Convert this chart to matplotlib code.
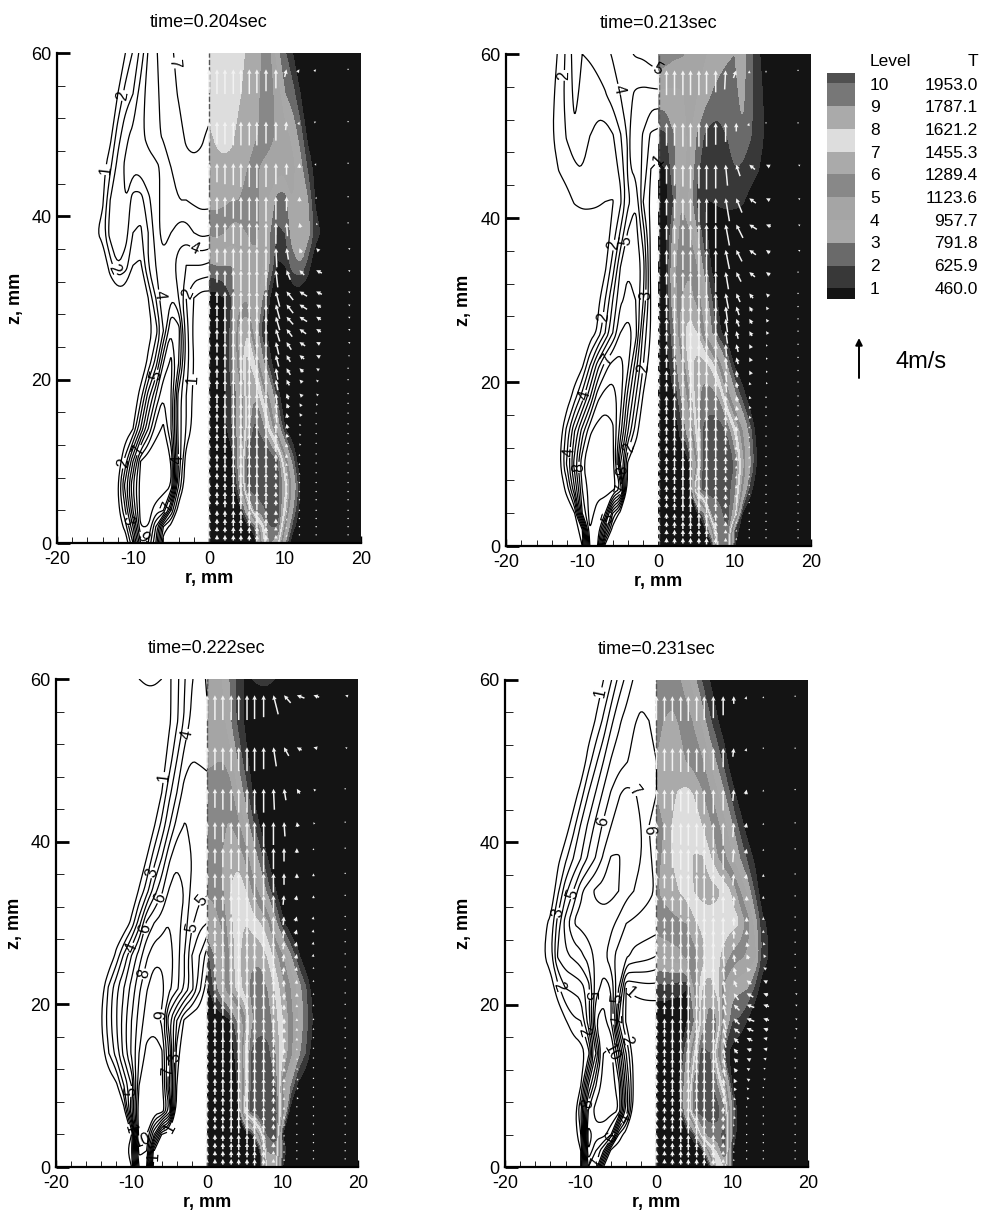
import numpy as np
import matplotlib
matplotlib.use("Agg")
import matplotlib.pyplot as plt
from matplotlib.colors import ListedColormap, BoundaryNorm
from matplotlib.path import Path
from matplotlib.patches import FancyArrowPatch

plt.rcParams['font.family'] = ['Liberation Sans', 'DejaVu Sans']
plt.rcParams['axes.unicode_minus'] = False

# grid of the temperature tables
r_grid = [0, 1, 2, 3, 4, 5, 6, 7, 8, 9, 10, 11, 12, 13, 14, 16, 20]
z_grid = [0, 2, 4, 7, 10, 14, 18, 22, 26, 30, 34, 38, 42, 46, 50, 55, 60]

# temperature in contour level units (rows = z_grid)
T_204 = [
    [0, 0, 0, 0, 0, 0, 0, 6, 9, 8, 3, 0, 0, 0, 0, 0, 0],
    [0, 0, 0, 0, 0, 0.5, 2, 7, 10, 10, 5, 1.5, 0, 0, 0, 0, 0],
    [0, 0, 0, 0, 0.2, 4, 9, 9.5, 10.5, 10.5, 7, 3, 0.5, 0, 0, 0, 0],
    [0, 0, 0, 0, 3, 10, 10.5, 11, 11, 10.5, 8, 4.5, 1, 0, 0, 0, 0],
    [0, 0, 0, 0.3, 4, 10, 11, 11, 11, 10, 6, 2.5, 0, 0, 0, 0, 0],
    [0, 0, 0.5, 2, 3.5, 8, 10.2, 9.5, 7, 4, 1, 0, 0, 0, 0, 0, 0],
    [0, 0, 0.7, 2, 3.5, 8, 9, 7, 4.5, 1.5, 0, 0, 0, 0, 0, 0, 0],
    [0, 0, 1, 2.5, 6, 8.3, 7, 3.5, 1.3, 0, 0, 0, 0, 0, 0, 0, 0],
    [0, 0, 0.7, 2.5, 6.5, 7, 4, 1.5, 0.5, 0, 0, 0, 0, 0, 0, 0, 0],
    [0.5, 0.5, 1, 2, 4, 5, 5, 3, 1, 0.2, 0, 0, 0, 0, 0, 0, 0],
    [2.8, 3, 3, 3, 3.5, 4.5, 4.5, 4, 3, 0.8, 1, 2.5, 3, 1.5, 0, 0, 0],
    [5.2, 5.3, 5, 4.5, 4.5, 5, 5.5, 4.5, 3, 1.8, 2, 3.5, 4, 3.5, 1.5, 0, 0],
    [6.3, 6.3, 6.2, 6, 6, 6, 5.5, 4.5, 3.8, 2.5, 2.5, 4, 4, 3, 0.8, 0, 0],
    [6.5, 6.7, 6.8, 6.7, 6.3, 6, 5.2, 4.8, 4.6, 4.5, 4.4, 4.2, 3.4, 1.8, 0.5, 0, 0],
    [6.8, 7.2, 7.3, 7.2, 6.6, 6.3, 6.2, 5.7, 5.3, 4.8, 4.3, 3.7, 2.5, 0.6, 0, 0, 0],
    [7.6, 7.6, 7.5, 7.3, 7.1, 6.6, 6.3, 5.8, 5.4, 4.5, 3, 2.4, 1, 0.2, 0, 0, 0],
    [7.8, 7.8, 7.7, 7.5, 7.2, 6.9, 6.4, 5.9, 5.1, 3.3, 2.1, 1, 0.3, 0, 0, 0, 0],
]
T_213 = [
    [0, 0, 0, 0, 0, 0, 0, 0.5, 9, 9, 1, 0, 0, 0, 0, 0, 0],
    [0, 0, 0, 0, 0, 0, 0.3, 5, 10, 10, 2, 0, 0, 0, 0, 0, 0],
    [0, 0, 0, 0, 0, 0.5, 3, 9, 9.5, 10.5, 8, 1, 0, 0, 0, 0, 0],
    [0, 0, 0, 0, 0.2, 9, 10.5, 10.5, 10.5, 10.5, 9, 5, 1.5, 0, 0, 0, 0],
    [0, 0, 0, 0, 0.7, 5, 10.5, 11, 11, 11, 9.8, 6.5, 3.2, 0.8, 0, 0, 0],
    [0, 0, 0, 1.5, 4, 7.5, 10.2, 10.5, 10.5, 9.8, 7.5, 5, 2.4, 0.3, 0, 0, 0],
    [0, 0, 0.8, 3, 5.5, 8.5, 9.5, 9.6, 8.8, 6, 3.6, 1.7, 0.3, 0, 0, 0, 0],
    [0, 0.3, 2, 4.5, 7.2, 8.5, 8.5, 7.5, 5.5, 3, 0.8, 0, 0, 0, 0, 0, 0],
    [0, 0.9, 2.7, 6.5, 7.5, 7, 5, 3, 1.2, 0.3, 0, 0, 0, 0, 0, 0, 0],
    [0, 0.9, 4, 6, 6.3, 5.8, 4, 2, 0.6, 0, 0, 0, 0, 0, 0, 0, 0],
    [0.1, 0.7, 4.5, 5.9, 5.9, 5, 2.5, 0.8, 0, 0, 0, 0, 0, 0, 0, 0, 0],
    [0.1, 0.7, 3.5, 5.5, 5.2, 3.2, 1.4, 0.4, 0, 0, 0, 0, 0, 0, 0, 0, 0],
    [0.3, 0.7, 2, 4.9, 3.7, 1.8, 0.95, 1, 1.2, 1.3, 1.3, 1.1, 0.6, 0.2, 0, 0, 0],
    [0.8, 1, 2.8, 3.6, 4.2, 2.2, 1.6, 1.2, 1.3, 1.6, 2, 1.8, 1.5, 1.1, 0.5, 0, 0],
    [1.6, 1.8, 2.9, 3.6, 4.1, 2.9, 1.9, 1.5, 1.6, 2, 2.5, 2.8, 2.1, 1.5, 0.9, 0, 0],
    [3.7, 3.7, 3.7, 3.8, 4.3, 4, 3.5, 2.9, 2.6, 2.6, 2.7, 3.3, 2.3, 1.6, 0.7, 0, 0],
    [5.8, 5.5, 5.2, 5.1, 4.8, 4.5, 4.1, 3.7, 3.4, 3.1, 3, 3.5, 2.3, 1.2, 0.5, 0, 0],
]
T_222 = [
    [0, 0, 0, 0, 0, 0, 0, 0, 8, 8, 1, 0, 0, 0, 0, 0, 0],
    [0, 0, 0, 0, 0, 0, 0, 1, 9, 9.5, 2, 0, 0, 0, 0, 0, 0],
    [0, 0, 0, 0, 0, 0, 1, 6, 10, 10.8, 1, 0, 0, 0, 0, 0, 0],
    [0, 0, 0, 0, 0.2, 8, 11, 11, 11, 10.8, 6, 0.6, 0, 0, 0, 0, 0],
    [0, 0, 0, 0, 1, 6, 10.5, 11, 10.8, 10, 5, 3, 0.7, 0, 0, 0, 0],
    [0, 0, 0, 0, 1.5, 7, 10.2, 10.4, 10.3, 9, 7.2, 5.4, 3.5, 2, 0.4, 0, 0],
    [0, 0, 0, 0.8, 3, 5.2, 8.8, 9.7, 9.5, 8.4, 7, 5.6, 4, 2.6, 1, 0, 0],
    [0.5, 2.3, 4.4, 6, 7.3, 8.3, 9.3, 9.6, 8.9, 7.8, 6.4, 5, 3.8, 2.2, 0.5, 0, 0],
    [1.5, 3, 4, 6, 7.5, 8.5, 8.8, 8.7, 7.8, 6.5, 5, 3.2, 1.3, 0, 0, 0, 0],
    [4, 4.3, 5.2, 6.5, 7.5, 8, 7.5, 7, 6.2, 3.5, 1.3, 0, 0, 0, 0, 0, 0],
    [5.2, 5.4, 5.7, 7, 7.5, 7.1, 5.8, 4.5, 2.5, 1.1, 0, 0, 0, 0, 0, 0, 0],
    [5.6, 5.8, 6, 6.5, 6.8, 5.8, 4, 2.5, 1, 0, 0, 0, 0, 0, 0, 0, 0],
    [6, 5.8, 5.9, 6.05, 5.4, 3.9, 2.3, 0.9, 0, 0, 0, 0, 0, 0, 0, 0, 0],
    [5.2, 5.6, 5.7, 5.5, 4, 2.7, 1, 0.2, 0, 0, 0, 0, 0, 0, 0, 0, 0],
    [4.9, 4.9, 5, 4.4, 3, 1.5, 0.4, 0, 0, 0, 0, 0, 0, 0, 0, 0, 0],
    [4.9, 4.8, 4.3, 3.1, 1.8, 0.8, 0, 0, 0, 0, 0, 0, 0, 0, 0, 0, 0],
    [5.1, 4.6, 3.9, 2.9, 1.7, 0.8, 1, 1.2, 1.2, 1, 0.5, 0, 0, 0, 0, 0, 0],
]
T_231 = [
    [0, 0, 0, 0, 0, 0, 0, 1, 7, 8, 1, 0, 0, 0, 0, 0, 0],
    [0, 0, 0, 0, 0, 0, 0.5, 6, 8, 10, 1, 0, 0, 0, 0, 0, 0],
    [0, 0, 0, 0, 0.2, 2, 8, 9.5, 9.5, 10.5, 2, 0, 0, 0, 0, 0, 0],
    [0, 0, 0, 0.3, 5, 10, 10.5, 10.5, 10.5, 9, 3, 0, 0, 0, 0, 0, 0],
    [0, 0, 0, 0.8, 4.5, 9.5, 10.5, 10.5, 9, 6, 1, 0, 0, 0, 0, 0, 0],
    [0, 0, 0, 0.5, 3, 7, 10.5, 10, 6, 1.5, 0.5, 0, 0, 0, 0, 0, 0],
    [0, 0, 0, 0, 0.8, 3, 8, 9.5, 9, 4.5, 2, 1.8, 0.9, 0, 0, 0, 0],
    [1.6, 1.6, 1.5, 1.3, 1, 5, 8, 8.5, 7.5, 4.5, 3.5, 3.2, 3, 1.7, 0.3, 0, 0],
    [4, 4.3, 4.5, 4.7, 5.2, 5.6, 6.3, 7.3, 7.2, 6.5, 5.7, 5.2, 4.8, 4.2, 1.7, 0, 0],
    [5.5, 5.6, 5.7, 5.8, 6, 6.7, 7.3, 7.5, 7.5, 7.5, 7.3, 7, 5.5, 3.5, 1.3, 0, 0],
    [5.9, 6.2, 6.5, 7, 7.4, 8, 8.3, 8.4, 8.2, 7.6, 6.8, 5, 3.7, 1.8, 0, 0, 0],
    [5.8, 6.1, 7, 7.3, 7.6, 8.1, 8.1, 7.2, 6.1, 5.2, 4, 3, 1.8, 0.7, 0, 0, 0],
    [5.8, 6, 7, 7.4, 7.5, 7.4, 7, 6.2, 5.3, 4.2, 3.1, 1.6, 0.4, 0, 0, 0, 0],
    [6, 6.3, 6.8, 7.1, 7.3, 6.9, 6.1, 5.2, 4.1, 3, 1.5, 0.3, 0, 0, 0, 0, 0],
    [6, 6.3, 6.5, 6.3, 5.9, 5.5, 5.1, 4, 2.8, 1.5, 0, 0, 0, 0, 0, 0, 0],
    [5.8, 6, 6.2, 5.9, 5.4, 4.8, 3.7, 2.2, 1.1, 0.2, 0, 0, 0, 0, 0, 0, 0],
    [5.9, 5.8, 5.5, 5.1, 4.3, 3.3, 1.9, 1, 0.3, 0, 0, 0, 0, 0, 0, 0, 0],
]

# velocity arrows: nodes, and axial speed (m/s) common to the four frames
arrow_r = [0, 1.05, 2.1, 3.2, 4.2, 5.3, 6.3, 7.5, 8.8, 10.2, 11.9, 14.1, 18.3]
arrow_z = [58, 51.6, 46.5, 42.4, 39.2, 36.1, 33.4, 30.8, 29.2, 27.7, 26.2, 24.6, 23, 21.4, 20, 18.3,
           17.1, 15.9, 14.6, 13.4, 12.2, 10.9, 9.8, 8.6, 7.4, 6.3, 5.3, 4, 3, 2, 1]
arrow_w = [
    [2.5, 2.6, 2.6, 2.6, 2.6, 2.6, 2.5, 2.3, 2.0, 0.8, 0.3, 0.2, 0.1],
    [2.2, 2.4, 2.4, 2.5, 2.5, 2.5, 2.5, 2.3, 2.0, 0.9, 0.3, 0.1, 0.1],
    [1.6, 2.0, 2.2, 2.3, 2.5, 2.5, 2.6, 2.5, 2.2, 1.2, 0.5, 0.2, 0.1],
    [1.4, 1.8, 2.1, 2.3, 2.4, 2.5, 2.6, 2.6, 2.4, 1.5, 0.5, 0.2, 0.1],
    [1.2, 1.6, 2.0, 2.2, 2.4, 2.5, 2.6, 2.5, 2.2, 1.4, 0.5, 0.2, 0.1],
    [1.2, 1.5, 1.8, 2.1, 2.3, 2.4, 2.4, 2.3, 2.0, 1.2, 0.5, 0.3, 0.1],
    [1.0, 1.3, 1.6, 2.0, 2.2, 2.3, 2.3, 2.1, 1.8, 1.0, 0.5, 0.3, 0.1],
    [1.0, 1.2, 1.5, 1.9, 2.1, 2.2, 2.2, 2.0, 1.6, 0.9, 0.5, 0.3, 0.1],
    [1.0, 1.2, 1.5, 1.8, 2.0, 2.1, 2.1, 1.9, 1.5, 0.9, 0.5, 0.3, 0.1],
    [1.0, 1.2, 1.4, 1.8, 2.0, 2.1, 2.0, 1.8, 1.4, 0.8, 0.5, 0.3, 0.1],
    [0.9, 1.1, 1.4, 1.7, 1.9, 2.0, 2.0, 1.7, 1.3, 0.8, 0.5, 0.3, 0.1],
    [0.9, 1.1, 1.3, 1.7, 1.9, 2.0, 1.9, 1.6, 1.3, 0.8, 0.4, 0.2, 0.1],
    [0.9, 1.1, 1.3, 1.6, 1.8, 1.9, 1.9, 1.6, 1.2, 0.7, 0.4, 0.2, 0.1],
    [0.9, 1.0, 1.3, 1.6, 1.8, 1.9, 1.8, 1.5, 1.2, 0.7, 0.4, 0.2, 0.1],
    [0.8, 1.0, 1.2, 1.5, 1.7, 1.8, 1.8, 1.5, 1.1, 0.6, 0.3, 0.2, 0.1],
    [0.8, 1.0, 1.2, 1.5, 1.7, 1.7, 1.7, 1.4, 1.1, 0.6, 0.3, 0.2, 0.1],
    [0.8, 0.9, 1.2, 1.4, 1.6, 1.7, 1.6, 1.4, 1.0, 0.5, 0.3, 0.2, 0.1],
    [0.8, 0.9, 1.1, 1.4, 1.6, 1.6, 1.6, 1.3, 1.0, 0.5, 0.3, 0.1, 0.1],
    [0.7, 0.9, 1.1, 1.3, 1.5, 1.6, 1.5, 1.3, 1.0, 0.5, 0.2, 0.1, 0.1],
    [0.7, 0.8, 1.0, 1.3, 1.5, 1.5, 1.5, 1.2, 0.9, 0.4, 0.2, 0.1, 0.1],
    [0.7, 0.8, 1.0, 1.2, 1.4, 1.5, 1.4, 1.2, 0.9, 0.4, 0.2, 0.1, 0.1],
    [0.7, 0.8, 1.0, 1.2, 1.4, 1.4, 1.4, 1.1, 0.8, 0.4, 0.2, 0.1, 0.1],
    [0.6, 0.8, 0.9, 1.1, 1.3, 1.4, 1.3, 1.1, 0.8, 0.3, 0.2, 0.1, 0.1],
    [0.6, 0.7, 0.9, 1.1, 1.3, 1.3, 1.3, 1.0, 0.7, 0.3, 0.2, 0.1, 0.1],
    [0.6, 0.7, 0.8, 1.0, 1.2, 1.3, 1.2, 1.0, 0.7, 0.3, 0.1, 0.1, 0.1],
    [0.6, 0.7, 0.8, 1.0, 1.1, 1.2, 1.2, 0.9, 0.6, 0.3, 0.1, 0.1, 0.1],
    [0.5, 0.6, 0.8, 0.9, 1.0, 1.1, 1.1, 0.9, 0.6, 0.2, 0.1, 0.1, 0.1],
    [0.5, 0.6, 0.7, 0.8, 0.9, 0.9, 1.0, 0.8, 0.5, 0.2, 0.1, 0.1, 0.1],
    [0.5, 0.6, 0.7, 0.8, 0.8, 0.8, 0.9, 0.8, 0.5, 0.2, 0.1, 0.1, 0.1],
    [0.5, 0.5, 0.6, 0.7, 0.7, 0.7, 0.8, 0.7, 0.4, 0.2, 0.1, 0.1, 0.1],
    [0.4, 0.5, 0.6, 0.6, 0.6, 0.6, 0.7, 0.6, 0.4, 0.2, 0.1, 0.1, 0.1],
]

# radial speed (m/s) of the five outer arrow columns, one table per frame
outer_cols = 5
arrow_u_204 = [
    [0, 0.2, 0.2, 0.2, 0.1], [0, 0.1, 0.1, 0.2, 0.1], [0, 0, 0, 0.1, 0], [0, 0, 0, 0, 0],
    [0, -0.1, -0.1, -0.1, 0], [-0.1, -0.2, -0.2, -0.3, -0.2], [-0.2, -0.4, -0.5, -0.6, -0.2],
    [-0.4, -0.7, -0.8, -0.6, -0.2], [-0.4, -0.7, -0.8, -0.5, -0.2], [-0.4, -0.7, -0.8, -0.5, -0.2],
    [-0.4, -0.6, -0.7, -0.5, -0.2], [-0.3, -0.5, -0.6, -0.4, -0.2], [-0.3, -0.4, -0.5, -0.4, -0.15],
    [-0.2, -0.4, -0.4, -0.3, -0.1], [-0.2, -0.3, -0.3, -0.2, -0.1], [-0.1, -0.2, -0.3, -0.2, -0.1],
    [-0.1, -0.2, -0.2, -0.1, 0], [-0.1, -0.1, -0.2, -0.1, 0], [0, -0.1, -0.1, -0.1, 0], [0, -0.1, -0.1, 0, 0],
    [0, 0, -0.1, 0, 0], [0, 0, 0, 0, 0], [0, 0, 0, 0, 0], [0, 0, 0, 0, 0], [0, 0, 0, 0, 0], [0, 0, 0, 0, 0],
    [0, 0, 0, 0, 0], [0, 0, 0, 0, 0], [0, 0, 0, 0, 0], [0, 0, 0, 0, 0], [0, 0, 0, 0, 0],
]
arrow_u_213 = [
    [0.1, 0.3, 0, 0, 0], [0, 0, 0.1, 0, 0], [-0.2, -0.4, -0.6, -0.4, -0.2], [-0.4, -0.6, -0.7, -0.4, -0.2],
    [-0.4, -0.7, -0.8, -0.5, -0.2], [-0.4, -0.6, -0.7, -0.4, -0.2], [-0.3, -0.5, -0.6, -0.4, -0.1],
    [-0.3, -0.4, -0.4, -0.3, -0.1], [-0.2, -0.3, -0.3, -0.2, -0.1], [-0.2, -0.3, -0.3, -0.2, -0.1],
    [-0.2, -0.2, -0.3, -0.2, -0.1], [-0.1, -0.2, -0.2, -0.1, 0], [-0.1, -0.2, -0.2, -0.1, 0],
    [-0.1, -0.1, -0.2, -0.1, 0], [-0.1, -0.1, -0.1, -0.1, 0], [0, -0.1, -0.1, 0, 0], [0, -0.1, -0.1, 0, 0],
    [0, 0, -0.1, 0, 0], [0, 0, 0, 0, 0], [0, 0, 0, 0, 0], [0, 0, 0, 0, 0], [0, 0, 0, 0, 0], [0, 0, 0, 0, 0],
    [0, 0, 0, 0, 0], [0, 0, 0, 0, 0], [0, 0, 0, 0, 0], [0, 0, 0, 0, 0], [0, 0, 0, 0, 0], [0, 0, 0, 0, 0],
    [0, 0, 0, 0, 0], [0, 0, 0, 0, 0],
]
arrow_u_222 = [
    [-0.5, -0.7, -0.8, -0.6, -0.3], [-0.3, -0.5, -0.5, -0.4, -0.2], [-0.1, -0.2, -0.3, -0.2, -0.1],
    [0, -0.1, -0.1, -0.1, 0], [0, 0, 0, 0, 0], [0, 0, 0, 0, 0], [0, 0.1, 0.1, 0, 0], [0, 0.1, 0.15, 0.05, 0],
    [0, 0.1, 0.15, 0.05, 0], [0, 0.1, 0.15, 0.05, 0], [0, 0.1, 0.1, 0.05, 0], [0, 0.1, 0.1, 0, 0],
    [0, 0.05, 0.05, 0, 0], [0, 0, 0, 0, 0], [0, 0, 0, 0, 0], [0, 0, 0, 0, 0], [0, 0, 0, 0, 0], [0, 0, 0, 0, 0],
    [0, 0, 0, 0, 0], [0, 0, -0.05, 0, 0], [0, 0, -0.05, -0.05, 0], [0, 0, -0.1, -0.05, 0], [0, 0, -0.1, -0.05, 0],
    [0, 0, -0.1, -0.05, 0], [0, 0, -0.1, -0.05, 0], [0, 0, -0.05, 0, 0], [0, 0, 0, 0, 0], [0, 0, 0, 0, 0],
    [0, 0, 0, 0, 0], [0, 0, 0, 0, 0], [0, 0, 0, 0, 0],
]
arrow_u_231 = [
    [0, 0, 0.1, 0, 0], [0, 0.1, 0.1, 0, 0], [0, 0.1, 0.1, 0, 0], [0, 0.1, 0.1, 0, 0], [0, 0.1, 0.1, 0, 0],
    [0, 0.1, 0.1, 0, 0], [0, 0, 0, 0, 0], [0, 0, 0, 0, 0], [0, 0, 0, 0, 0], [0, 0, -0.1, -0.1, 0],
    [-0.1, -0.1, -0.2, -0.2, -0.1], [-0.1, -0.2, -0.3, -0.3, -0.1], [-0.2, -0.3, -0.5, -0.4, -0.1],
    [-0.3, -0.5, -0.7, -0.5, -0.2], [-0.3, -0.6, -0.8, -0.6, -0.2], [-0.3, -0.6, -0.8, -0.6, -0.2],
    [-0.3, -0.6, -0.7, -0.5, -0.2], [-0.3, -0.5, -0.6, -0.4, -0.1], [-0.2, -0.4, -0.5, -0.4, -0.1],
    [-0.2, -0.4, -0.4, -0.3, -0.1], [-0.2, -0.3, -0.3, -0.2, -0.1], [-0.1, -0.2, -0.3, -0.2, 0],
    [-0.1, -0.2, -0.2, -0.1, 0], [-0.1, -0.1, -0.2, -0.1, 0], [0, -0.1, -0.1, -0.1, 0], [0, -0.1, -0.1, 0, 0],
    [0, 0, 0, 0, 0], [0, 0, 0, 0, 0], [0, 0, 0, 0, 0], [0, 0, 0, 0, 0], [0, 0, 0, 0, 0],
]

# contour labels sitting on the left half of every frame
labels_204 = [(-10.8, 54.7), (-13.4, 45.7), (-12.1, 33.7), (-2.2, 35.3), (-6.2, 30.4), (-2.5, 30.4), (-4.2, 58.8),
              (-7.1, 20.6), (-2.2, 20), (-9.3, 11.4), (-11.4, 9.8), (-4, 10.2), (-10.8, 2.8), (-5.5, 4.4), (-8.4, 1)]
labels_213 = [(-12.6, 57.4), (-5.2, 55.7), (-0.4, 57.8), (-0.4, 47.7), (-5.9, 36.7), (-3.7, 37.1), (-1.7, 30.6),
              (-7.4, 27.9), (-6.9, 22.8), (-9.8, 18.4), (-11.7, 11.4), (-10.4, 9.6), (-3.7, 12), (-2, 21.7),
              (-5.4, 9.2), (-4.8, 6.9), (-6.5, 3.4)]
labels_222 = [(-2.7, 53.2), (-5.8, 47.9), (-7.4, 36.2), (-6, 32.9), (-0.9, 32.9), (-8.2, 29.3), (-1.8, 29.4),
              (-10.2, 27), (-8.2, 23.7), (-6, 18.7), (-4.3, 13.5), (-5.1, 11.8), (-10.2, 9.3), (-10.7, 4.5),
              (-8.5, 3.2), (-4.3, 4.5), (-7.1, 1.3)]
labels_231 = [(-7.2, 58.4), (-2.6, 46.6), (-7.4, 42.7), (-0.6, 41.5), (-11, 33.6), (-13, 31.3), (-12.9, 22.2),
              (-9.1, 21.2), (-5.1, 20.8), (-2.9, 22), (-5.8, 18.2), (-3.8, 15.7), (-9.5, 16.7), (-5.9, 14.1),
              (-9.1, 7.8), (-4.3, 6), (-6, 3.6), (-8, 0.6)]

titles = ["time=0.204sec", "time=0.213sec", "time=0.222sec", "time=0.231sec"]
levels = [1, 2, 3, 4, 5, 6, 7, 8, 9, 10]
level_T = ["460.0", "625.9", "791.8", "957.7", "1123.6", "1289.4", "1455.3", "1621.2", "1787.1", "1953.0"]
# below level 1, between the levels, above level 10
fill_colors = ['#141414', '#383838', '#6a6a6a', '#a8a8a8', '#a5a5a5', '#888888',
               '#aaaaaa', '#dddddd', '#aaaaaa', '#777777', '#505050']

W, H = 983, 1214
fig = plt.figure(figsize=(W / 100, H / 100), dpi=100)

bounds = [-1] + levels + [12]
cmap = ListedColormap(fill_colors)
norm = BoundaryNorm(bounds, cmap.N)


def px_axes(x0, x1, y_top, y_bot):
    return fig.add_axes([x0 / W, 1 - y_bot / H, (x1 - x0) / W, (y_bot - y_top) / H])


def on_border(p):
    return abs(p[0]) < 1e-6 or abs(abs(p[0]) - 20) < 1e-6 or abs(p[1]) < 1e-6 or abs(p[1] - 60) < 1e-6


# rounds the corners of a contour polyline, points on the domain border stay put
def round_corners(pts, closed):
    out = []
    n = len(pts)
    for i in range(n if closed else n - 1):
        a, b = pts[i], pts[(i + 1) % n]
        if on_border(a):
            out.append(a)
        else:
            out.append(0.75 * a + 0.25 * b)
        if not on_border(b):
            out.append(0.25 * a + 0.75 * b)
    if not closed:
        out.append(pts[-1])
    return np.array(out)


def smooth_contours(cs, passes=2):
    new_paths = []
    for path in cs.get_paths():
        if len(path.vertices) == 0:
            new_paths.append(path)
            continue
        starts = list(np.where(path.codes == Path.MOVETO)[0]) + [len(path.vertices)]
        verts, codes = [], []
        for s, e in zip(starts[:-1], starts[1:]):
            pts = path.vertices[s:e]
            closed = path.codes[e - 1] == Path.CLOSEPOLY
            if closed:
                pts = pts[:-1]
            if len(pts) > 2:
                for _ in range(passes):
                    pts = round_corners(pts, closed)
            c = [Path.MOVETO] + [Path.LINETO] * (len(pts) - 1)
            if closed:
                pts = np.vstack([pts, pts[0]])
                c.append(Path.CLOSEPOLY)
            verts.append(pts)
            codes += c
        new_paths.append(Path(np.vstack(verts), codes))
    cs._paths = new_paths


def draw_frame(box, title, T, u_outer, label_pos):
    ax = px_axes(*box)
    T = np.array(T)
    r = np.array(r_grid)
    z = np.array(z_grid)

    cf = ax.contourf(r, z, T, levels=bounds, cmap=cmap, norm=norm)
    smooth_contours(cf)
    cs = ax.contour(-r, z, T, levels=levels, colors='black', linewidths=0.9)
    smooth_contours(cs)
    ax.clabel(cs, manual=label_pos, inline=True, inline_spacing=1, fmt='%d', fontsize=11.5)
    ax.axvline(0, color='#555555', ls='--', lw=1, zorder=1.5)

    # arrows
    w = np.array(arrow_w)
    u = np.zeros_like(w)
    u[:, -outer_cols:] = np.array(u_outer)
    X, Y = np.meshgrid(arrow_r, arrow_z)
    ax.quiver(X, Y, u, w, color='#f2f2f2', pivot='tip', angles='uv', scale_units='inches', scale=10.5,
              units='dots', width=1.5, headwidth=3, headlength=3, headaxislength=2.8, zorder=3)

    ax.set_xlim(-20, 20)
    ax.set_ylim(0, 60)
    ax.set_axisbelow(True)
    ax.spines['top'].set_visible(False)
    ax.spines['right'].set_visible(False)
    ax.spines['left'].set_linewidth(1.6)
    ax.spines['bottom'].set_linewidth(1.6)
    ax.set_xticks([-20, -10, 0, 10, 20])
    ax.set_xticks(np.arange(-20, 21, 2), minor=True)
    ax.set_yticks([0, 20, 40, 60])
    ax.set_yticks(np.arange(0, 61, 4), minor=True)
    ax.tick_params(axis='y', which='major', direction='in', length=9, width=2, labelsize=13, pad=4)
    ax.tick_params(axis='y', which='minor', direction='in', length=5.5, width=0.6)
    ax.tick_params(axis='x', which='major', direction='in', length=5, width=1, labelsize=13, pad=6)
    ax.tick_params(axis='x', which='minor', direction='in', length=4.5, width=0.6)
    ax.set_xlabel("r, mm", fontsize=13, fontweight='bold')
    ax.set_ylabel("z, mm", fontsize=13, fontweight='bold')
    ax.xaxis.set_label_coords(0.5, -0.055, transform=ax.transAxes)
    ax.yaxis.set_label_coords(-0.11, 0.5, transform=ax.transAxes)
    ax.set_title(title, fontsize=13, pad=19)
    return ax


draw_frame((57, 361, 53, 543), titles[0], T_204, arrow_u_204, labels_204)
draw_frame((506, 811, 54, 546), titles[1], T_213, arrow_u_213, labels_213)
draw_frame((56, 358, 679, 1167), titles[2], T_222, arrow_u_222, labels_222)
draw_frame((505, 808, 680, 1167), titles[3], T_231, arrow_u_231, labels_231)

# level legend
leg = px_axes(827, 855, 73, 299)
leg_bounds = [0.53] + levels + [10.45]
leg.pcolormesh([0, 1], leg_bounds, np.arange(len(fill_colors)).reshape(-1, 1), cmap=cmap,
               vmin=-0.5, vmax=len(fill_colors) - 0.5)
leg.axis('off')

fig.text(870 / W, 1 - 62 / H, "Level", fontsize=12.5, ha='left', va='center')
fig.text(978 / W, 1 - 62 / H, "T", fontsize=12.5, ha='right', va='center')
for lev, val in zip(levels, level_T):
    y = 85 + (10 - lev) * 22.7
    fig.text(870 / W, 1 - y / H, str(lev), fontsize=12.5, ha='left', va='center')
    fig.text(978 / W, 1 - y / H, val, fontsize=12.5, ha='right', va='center')

# reference vector
fig.add_artist(FancyArrowPatch(
    (859 / W, 1 - 378 / H), (859 / W, 1 - 338 / H), transform=fig.transFigure,
    arrowstyle='-|>', mutation_scale=10, color='black', lw=1.4, shrinkA=0, shrinkB=0))
fig.text(895 / W, 1 - 362 / H, "4m/s", fontsize=17, ha='left', va='center')

fig.savefig("out.png", dpi=100)
